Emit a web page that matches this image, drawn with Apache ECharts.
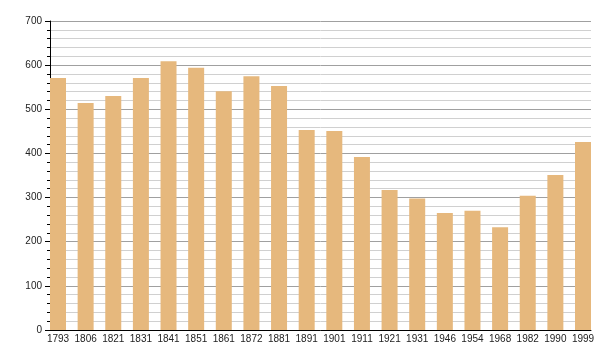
<!DOCTYPE html>
<html>
<head>
<meta charset="utf-8">
<script src="https://cdn.jsdelivr.net/npm/echarts@6/dist/echarts.min.js"></script>
<style>html,body{margin:0;padding:0;background:#fff}#c{width:600px;height:360px}</style>
</head>
<body>
<div id="c"></div>
<script>
var years = ['1793','1806','1821','1831','1841','1851','1861','1872','1881','1891','1901','1911','1921','1931','1946','1954','1968','1982','1990','1999'];
var population = [571,514,530,571,609,594,541,575,553,453,451,392,317,298,265,270,233,304,351,426];
var yTicks = {min: 0, max: 700, interval: 100};

var chart = echarts.init(document.getElementById('c'), null, {renderer: 'canvas'});
var font = 'Liberation Sans, Arial, sans-serif';
var n = years.length;
var plotL = 50, plotR = 591, barW = 16;
var pitch = (plotR - plotL - barW) / (n - 1);
var aLeft = plotL + barW / 2 - pitch / 2;
var aRight = 600 - (plotR - barW / 2 + pitch / 2);

chart.setOption({
  animation: false,
  backgroundColor: '#fff',
  grid: [
    {left: plotL, right: 600 - plotR, top: 21, bottom: 30},
    {left: aLeft, right: aRight, top: 21, bottom: 30}
  ],
  xAxis: [
    {gridIndex: 0, type: 'category', data: years, show: true,
      axisLine: {show: true, lineStyle: {color: '#000', width: 1}},
      axisTick: {show: false}, axisLabel: {show: false}, splitLine: {show: false}},
    {gridIndex: 1, type: 'category', data: years, boundaryGap: true,
      axisLine: {show: false}, axisTick: {show: false},
      axisLabel: {show: true, interval: 0, margin: 4, fontSize: 10, color: '#222', fontFamily: font},
      splitLine: {show: false}}
  ],
  yAxis: [
    {gridIndex: 0, type: 'value', min: yTicks.min, max: yTicks.max, interval: yTicks.interval,
      axisLine: {show: true, lineStyle: {color: '#000', width: 1}},
      axisTick: {show: true, length: 5, lineStyle: {color: '#000'}},
      minorTick: {show: true, splitNumber: 5, length: 3, lineStyle: {color: '#000'}},
      axisLabel: {fontSize: 10, color: '#222', fontFamily: font, margin: 8},
      splitLine: {show: true, lineStyle: {color: '#a0a0a0', width: 1}},
      minorSplitLine: {show: true, lineStyle: {color: '#d0d0d0', width: 1}}},
    {gridIndex: 1, type: 'value', min: yTicks.min, max: yTicks.max, interval: yTicks.interval, show: false,
      splitLine: {show: false}}
  ],
  series: [{
    type: 'bar', xAxisIndex: 1, yAxisIndex: 1, data: population, barWidth: barW,
    itemStyle: {color: '#e6b87d'}, z: 3
  }]
});
</script>
</body>
</html>
